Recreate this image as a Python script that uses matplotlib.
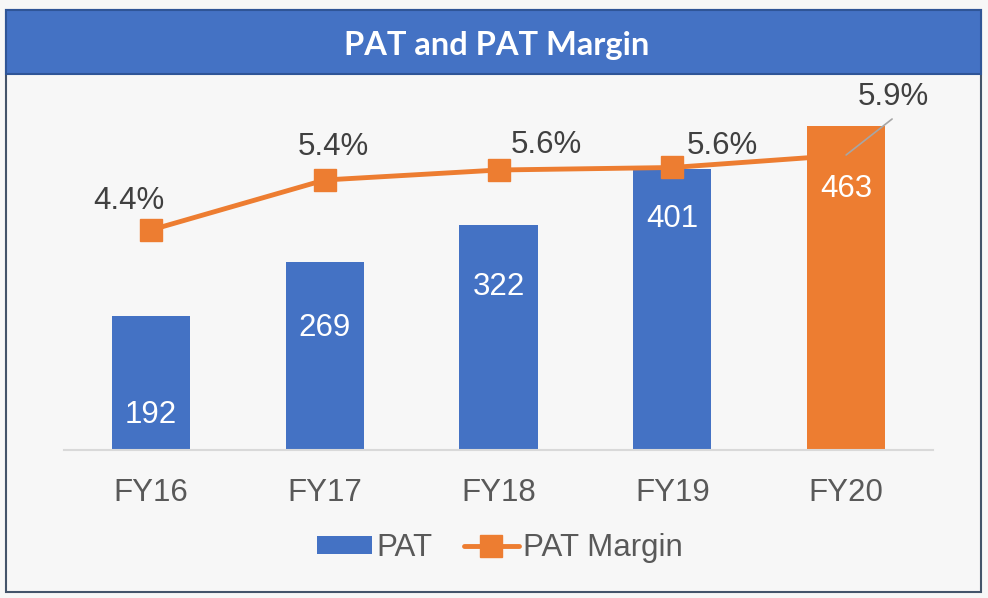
import matplotlib
import matplotlib.pyplot as plt
from matplotlib import patches

matplotlib.use('Agg')

years = ['FY16', 'FY17', 'FY18', 'FY19', 'FY20']
pat = [192, 269, 322, 401, 463]
margin = [4.4, 5.4, 5.6, 5.65, 5.9]
margin_labels = ['4.4%', '5.4%', '5.6%', '5.6%', '5.9%']

blue = '#4472C4'
orange = '#ED7D31'
bg = '#F7F7F7'
font = 'Liberation Sans'
fs = 22.5

fig = plt.figure(figsize=(9.88, 5.98), dpi=100, facecolor=bg)

# outer frame and title banner (behind the axes)
fig.add_artist(patches.Rectangle((6/988, 6/598), 975/988, 582/598, transform=fig.transFigure,
                                 facecolor=bg, edgecolor='#44546A', lw=1.5, zorder=-10))
fig.add_artist(patches.Rectangle((6/988, 524/598), 975/988, 64/598, transform=fig.transFigure,
                                 facecolor=blue, edgecolor='#2F5597', lw=1.5, zorder=-9))
fig.text(497/988, 553/598, 'PAT and PAT Margin', color='white', fontsize=23.5, fontweight='bold',
         family='Lato', ha='center', va='center')

ax = fig.add_axes([64/988, 148/598, 869/988, 350/598])
ax.set_facecolor('none')
x = list(range(len(years)))
colors = [blue] * 4 + [orange]
bars = ax.bar(x, pat, width=0.45, color=colors, label='PAT', zorder=2)
ax.set_ylim(0, 500)
ax.set_xlim(-0.5, 4.5)
ax.set_xticks(x)
ax.set_xticklabels(years, fontsize=fs, color='#595959', family=font)
ax.tick_params(axis='x', length=0, pad=20)
ax.set_yticks([])
for s in ['top', 'right', 'left']:
    ax.spines[s].set_visible(False)
ax.spines['bottom'].set_color('#D9D9D9')
ax.spines['bottom'].set_linewidth(1.5)

bar_off = [-99, -66, -62, -50, -63]
for i, v in enumerate(pat):
    ax.annotate(str(v), (i, v), xytext=(0, bar_off[i]), textcoords='offset pixels',
                ha='center', va='center', color='white', fontsize=fs, family=font, zorder=5)

ax2 = ax.twinx()
ax2.set_ylim(0, 7)
ax2.axis('off')
ax2.plot(x, margin, color=orange, lw=3.5, marker='s', markersize=16, label='PAT Margin',
         solid_capstyle='round', zorder=3)

lab_off = [(-22, 29), (9, 33), (48, 25), (50, 21), (47, 58)]
for i, v in enumerate(margin):
    ax2.annotate(margin_labels[i], (i, v), xytext=lab_off[i], textcoords='offset pixels',
                 ha='center', va='center', color='#404040', fontsize=fs, family=font)
# leader line for last label
ax2.annotate('', (x[4], margin[4]), xytext=(46, 36), textcoords='offset pixels',
             arrowprops=dict(arrowstyle='-', color='#A6A6A6', lw=1.2, shrinkA=0, shrinkB=0))

h1, l1 = ax.get_legend_handles_labels()
h2, l2 = ax2.get_legend_handles_labels()
leg = fig.legend(h1 + h2, l1 + l2, loc='center', bbox_to_anchor=(500/988, 50/598), ncol=2,
                 frameon=False, prop={'family': font, 'size': fs}, handlelength=1.75,
                 handleheight=0.5, handletextpad=0.15, columnspacing=1.0)
for t in leg.get_texts():
    t.set_color('#595959')

fig.savefig('out.png', dpi=100, facecolor=bg)
